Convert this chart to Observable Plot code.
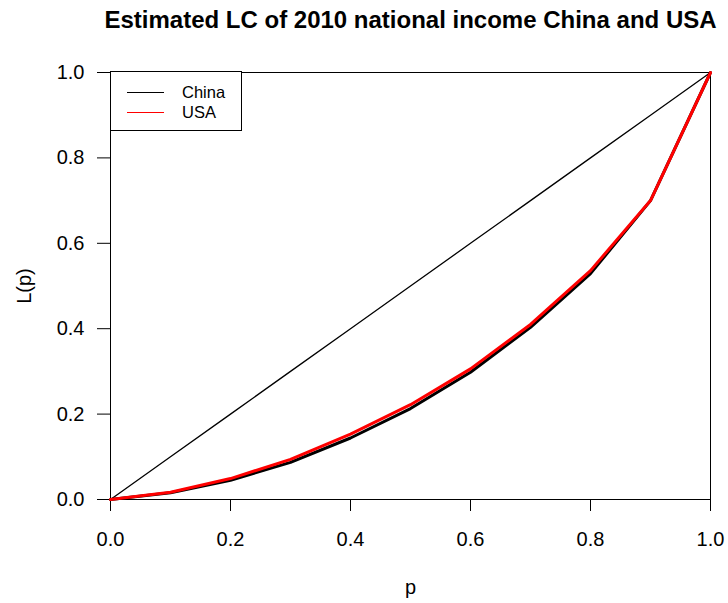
<!DOCTYPE html>
<html>
<head>
<meta charset="utf-8">
<script src="https://cdn.jsdelivr.net/npm/d3@7"></script>
<script src="https://cdn.jsdelivr.net/npm/@observablehq/plot@0.6"></script>
<style>
  html, body { margin: 0; padding: 0; background: #fff; }
  #chart { position: relative; width: 728px; height: 603px; font-family: "Liberation Sans", Arial, sans-serif; }
  #legend { position: absolute; left: 110px; top: 71px; width: 132px; height: 60px; border: 1px solid #000; background: #fff; box-sizing: border-box; }
  .item { position: absolute; left: 0; height: 20px; font-size: 16.5px; color: #000; }
  .item .swatch { position: absolute; left: 16px; top: 10px; width: 37px; height: 1px; }
  .item .name { position: absolute; left: 71px; top: 0; white-space: nowrap; line-height: 20px; }
</style>
</head>
<body>
<div id="chart"></div>
<script>
// Cumulative population share p and estimated Lorenz curve ordinates L(p), 2010
const p = [0, 0.1, 0.2, 0.3, 0.4, 0.5, 0.6, 0.7, 0.8, 0.9, 1.0];
const china = [0, 0.016, 0.045, 0.087, 0.144, 0.213, 0.298, 0.403, 0.529, 0.700, 1.0];
const usa   = [0, 0.017, 0.049, 0.094, 0.153, 0.222, 0.306, 0.410, 0.536, 0.700, 1.0];
const seriesNames = ["China", "USA"];
const seriesColors = ["#000000", "#ff0000"];
const ticks = [0, 0.2, 0.4, 0.6, 0.8, 1.0];
const titleText = "Estimated LC of 2010 national income China and USA";

const rows = [
  ...p.map((v, i) => ({p: v, L: china[i], country: seriesNames[0]})),
  ...p.map((v, i) => ({p: v, L: usa[i], country: seriesNames[1]}))
];

const fmt = d3.format(".1f");

const chart = Plot.plot({
  width: 728,
  height: 603,
  marginLeft: 110,
  marginRight: 18,
  marginTop: 72,
  marginBottom: 104,
  style: {fontFamily: "'Liberation Sans', Arial, sans-serif", background: "#fff", color: "#000"},
  x: {domain: [0, 1], ticks: ticks},
  y: {domain: [0, 1], ticks: ticks},
  color: {domain: seriesNames, range: seriesColors},
  marks: [
    Plot.axisX(ticks, {tickSize: 12, tickPadding: 20, tickFormat: fmt, fontSize: 20, label: null, stroke: "#000"}),
    Plot.axisY(ticks, {tickSize: 13, tickPadding: 13, tickFormat: fmt, fontSize: 20, label: null, stroke: "#000"}),
    Plot.frame({stroke: "#000", strokeWidth: 1}),
    // line of perfect equality
    Plot.line(p, {x: d => d, y: d => d, stroke: "#000", strokeWidth: 1.3}),
    Plot.line(rows, {x: "p", y: "L", z: "country", stroke: "country", strokeWidth: 3, strokeLinejoin: "round"}),
    Plot.text([titleText], {frameAnchor: "top", lineAnchor: "middle", dy: -51.7, fontSize: 24, fontWeight: "bold", fill: "#000"}),
    Plot.text(["p"], {frameAnchor: "bottom", lineAnchor: "middle", dy: 87.6, fontSize: 20, fill: "#000"}),
    Plot.text(["L(p)"], {frameAnchor: "left", textAnchor: "middle", lineAnchor: "middle", dx: -86, rotate: -90, fontSize: 20, fill: "#000"})
  ]
});

const root = document.getElementById("chart");
root.appendChild(chart);

// legend box in the top-left corner of the panel
const legend = document.createElement("div");
legend.id = "legend";
seriesNames.forEach((name, i) => {
  const item = document.createElement("div");
  item.className = "item";
  item.style.top = (10 + i * 19.5) + "px";
  const sw = document.createElement("span");
  sw.className = "swatch";
  sw.style.background = seriesColors[i];
  const label = document.createElement("span");
  label.className = "name";
  label.textContent = name;
  item.appendChild(sw);
  item.appendChild(label);
  legend.appendChild(item);
});
root.appendChild(legend);
</script>
</body>
</html>
